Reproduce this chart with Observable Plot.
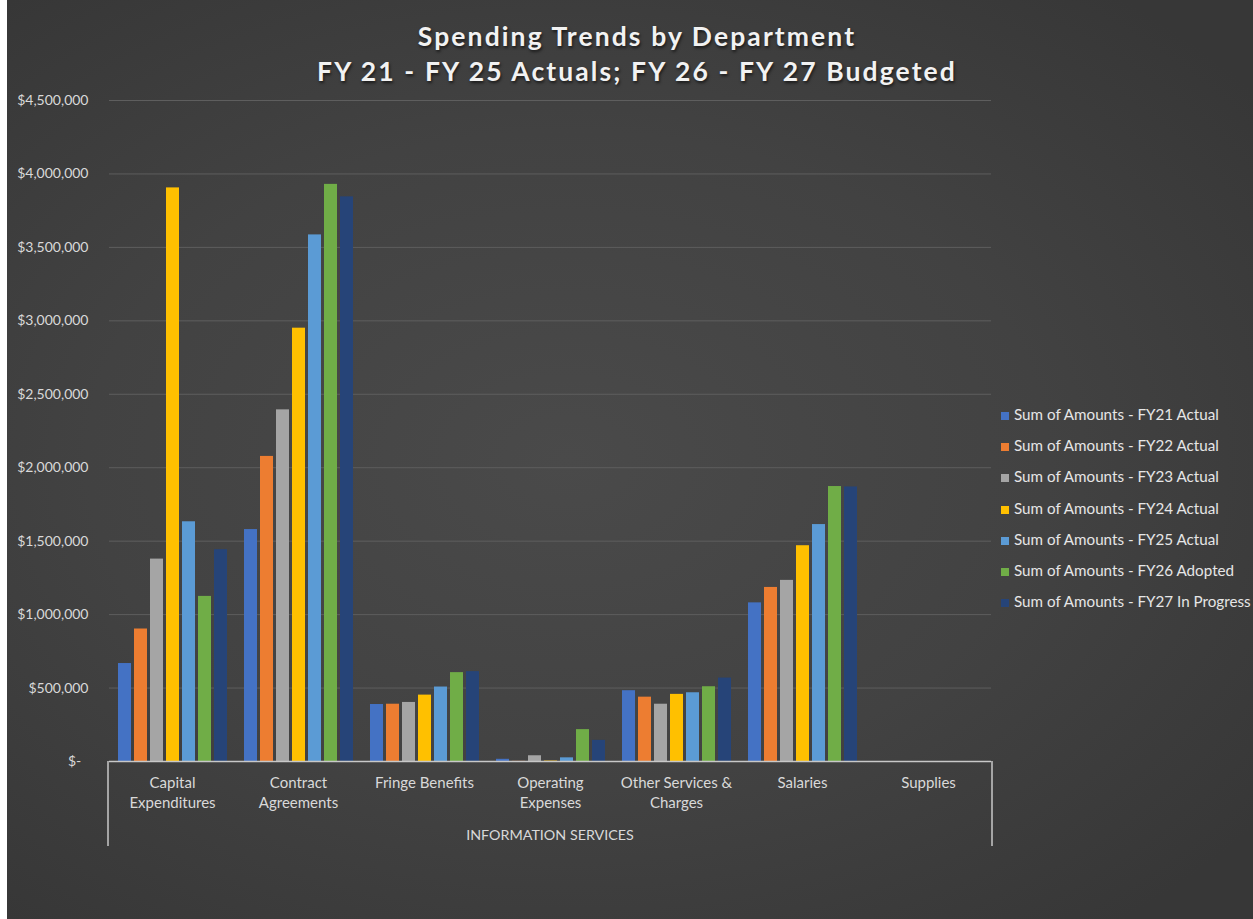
<!DOCTYPE html>
<html>
<head>
<meta charset="utf-8">
<script src="https://cdn.jsdelivr.net/npm/d3@7"></script>
<script src="https://cdn.jsdelivr.net/npm/@observablehq/plot@0.6"></script>
<style>
  html, body { margin: 0; padding: 0; background: #ffffff; }
  #page { position: relative; width: 1253px; height: 919px; overflow: hidden; background: #ffffff; }
  #bg { position: absolute; left: 7px; top: 0; width: 1246px; height: 919px;
        background: radial-gradient(ellipse 70% 65% at 45% 50%, #4a4a4a 0%, #424242 55%, #373737 100%); }
  #title { position: absolute; left: 0; width: 1274px; top: 19px; text-align: center; color: #f2f2f2;
           font-family: Lato, "Open Sans", sans-serif; font-weight: 700; font-size: 26.5px; line-height: 35px;
           letter-spacing: 2.1px; text-shadow: 1px 2px 3px rgba(0,0,0,0.6); }
  #chart { position: absolute; left: 0; top: 0; }
  #legend { position: absolute; left: 1001px; top: 404px; font-family: Lato, "Open Sans", sans-serif;
            font-size: 15.2px; color: #e6e6e6; }
  .item { height: 31.2px; line-height: 20px; white-space: nowrap; }
  .sw { display: inline-block; width: 8px; height: 8px; margin-right: 5px; vertical-align: 0px; }
</style>
</head>
<body>
<div id="page">
  <div id="bg"></div>
  <div id="title">Spending Trends by Department<br>FY 21 - FY 25 Actuals; FY 26 - FY 27 Budgeted</div>
  <div id="chart"></div>
  <div id="legend"></div>
</div>
<script>
const categories = ["Capital\nExpenditures", "Contract\nAgreements", "Fringe Benefits", "Operating\nExpenses",
                    "Other Services &\nCharges", "Salaries", "Supplies"];
const series = ["Sum of Amounts - FY21 Actual", "Sum of Amounts - FY22 Actual", "Sum of Amounts - FY23 Actual",
                "Sum of Amounts - FY24 Actual", "Sum of Amounts - FY25 Actual", "Sum of Amounts - FY26 Adopted",
                "Sum of Amounts - FY27 In Progress"];
const colors = ["#4472C4", "#ED7D31", "#A5A5A5", "#FFC000", "#5B9BD5", "#70AD47", "#264478"];

const fy21 = [667000, 1579000, 388000, 15000, 482000, 1080000, 0];
const fy22 = [902000, 2077000, 390000, 1000, 438000, 1185000, 0];
const fy23 = [1378000, 2394000, 402000, 39000, 390000, 1233000, 0];
const fy24 = [3905000, 2950000, 452000, 3000, 457000, 1469000, 0];
const fy25 = [1632000, 3585000, 507000, 25000, 468000, 1613000, 0];
const fy26 = [1124000, 3929000, 605000, 217000, 509000, 1872000, 0];
const fy27 = [1442000, 3844000, 612000, 144000, 568000, 1869000, 0];

const yTicks = [0, 500000, 1000000, 1500000, 2000000, 2500000, 3000000, 3500000, 4000000, 4500000];
const groupLabel = "INFORMATION SERVICES";

const seriesValues = [fy21, fy22, fy23, fy24, fy25, fy26, fy27];
const data = [];
categories.forEach((c, i) => series.forEach((s, j) => data.push({category: c, series: s, value: seriesValues[j][i]})));

const W = 1253, H = 919, ML = 108, MR = 261, MT = 100, MB = 158;
const fmt = d => d === 0 ? "$-  " : d3.format("$,")(d);

const chart = Plot.plot({
  width: W, height: H,
  marginLeft: ML, marginRight: MR, marginTop: MT, marginBottom: MB,
  style: {background: "transparent", color: "#d9d9d9", fontFamily: "Lato, 'Open Sans', sans-serif", fontSize: "14px"},
  fx: {domain: categories, padding: 0, label: null},
  x: {domain: series, paddingInner: 0.2, paddingOuter: 0.35, axis: null},
  y: {domain: [0, 4500000], label: null},
  color: {domain: series, range: colors},
  marks: [
    Plot.gridY(yTicks, {stroke: "#5e5e5e", strokeOpacity: 1, strokeWidth: 1}),
    Plot.axisY(yTicks, {tickSize: 0, tickPadding: 21, tickFormat: fmt, fill: "#d9d9d9", fontSize: 14, label: null}),
    Plot.barY(data, {fx: "category", x: "series", y: "value", fill: "series"}),
    Plot.ruleY([0], {stroke: "#c8c8c8", strokeWidth: 1.5}),
    Plot.axisFx({anchor: "bottom", tickSize: 0, tickPadding: 12, fontSize: 15, fill: "#d9d9d9", label: null, lineHeight: 1.35})
  ]
});
document.getElementById("chart").appendChild(chart);

// category-axis frame and outer group label (multi-level axis decoration)
const svg = d3.select(chart);
const x0 = ML, x1 = W - MR, yb = H - MB;
svg.append("line").attr("x1", x0).attr("x2", x0).attr("y1", yb).attr("y2", yb + 85).attr("stroke", "#c8c8c8").attr("stroke-width", 1.5);
svg.append("line").attr("x1", x1).attr("x2", x1).attr("y1", yb).attr("y2", yb + 85).attr("stroke", "#c8c8c8").attr("stroke-width", 1.5);
svg.append("text").attr("x", (x0 + x1) / 2).attr("y", yb + 79).attr("text-anchor", "middle")
   .attr("fill", "#d9d9d9").style("font-size", "14.3px").text(groupLabel);

// legend
const lg = d3.select("#legend");
series.forEach((s, i) => {
  const it = lg.append("div").attr("class", "item");
  it.append("span").attr("class", "sw").style("background", colors[i]);
  it.append("span").text(s);
});
</script>
</body>
</html>
